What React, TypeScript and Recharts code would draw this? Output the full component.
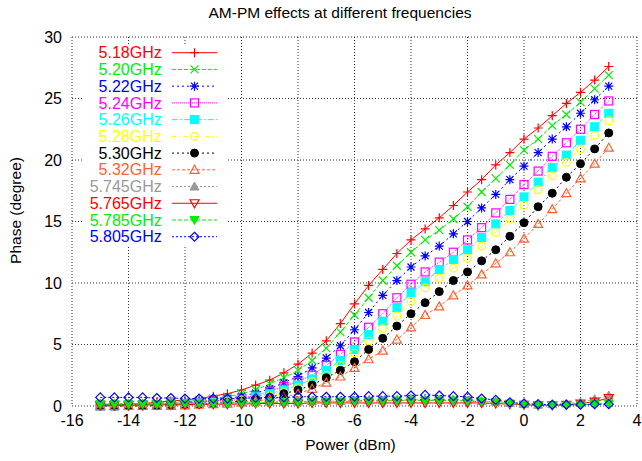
import { CartesianGrid, Legend, Line, LineChart, XAxis, YAxis } from "recharts";

// AM-PM phase vs input power, one curve per carrier frequency.

const FONT = '"Liberation Sans", Arial, Helvetica, sans-serif';

const POWER = [
  -15, -14.5, -14, -13.5, -13, -12.5, -12, -11.5, -11, -10.5, -10, -9.5, -9, -8.5, -8, -7.5, -7, -6.5,
  -6, -5.5, -5, -4.5, -4, -3.5, -3, -2.5, -2, -1.5, -1, -0.5, 0, 0.5, 1, 1.5, 2, 2.5, 3,
];
const X_TICKS = [-16, -14, -12, -10, -8, -6, -4, -2, 0, 2, 4];
const Y_TICKS = [0, 5, 10, 15, 20, 25, 30];

const F518 = [
  0.1, 0.1, 0.15, 0.2, 0.3, 0.4, 0.5, 0.6, 0.8, 1.0, 1.3, 1.7, 2.1, 2.7, 3.4, 4.3, 5.3, 6.7, 8.3, 9.8,
  11.1, 12.4, 13.5, 14.4, 15.3, 16.3, 17.4, 18.4, 19.6, 20.6, 21.7, 22.6, 23.6, 24.6, 25.5, 26.5, 27.6,
];
const F520 = [
  0.05, 0.1, 0.1, 0.15, 0.2, 0.3, 0.35, 0.45, 0.6, 0.75, 1.0, 1.3, 1.8, 2.3, 2.9, 3.7, 4.7, 6.0, 7.4, 8.8,
  10.2, 11.4, 12.5, 13.5, 14.3, 15.2, 16.2, 17.4, 18.5, 19.6, 20.8, 21.7, 22.8, 23.7, 24.7, 25.8, 26.9,
];
const F522 = [
  0.05, 0.05, 0.1, 0.1, 0.15, 0.2, 0.3, 0.35, 0.45, 0.6, 0.8, 1.05, 1.4, 1.9, 2.4, 3.1, 3.9, 4.9, 6.2, 7.6,
  9.0, 10.2, 11.3, 12.2, 13.0, 14.0, 15.0, 16.1, 17.2, 18.4, 19.5, 20.6, 21.7, 22.7, 23.8, 24.9, 26.0,
];
const F524 = [
  0, 0, 0.05, 0.1, 0.1, 0.15, 0.2, 0.3, 0.4, 0.5, 0.65, 0.85, 1.2, 1.6, 2.0, 2.5, 3.3, 4.2, 5.2, 6.4,
  7.5, 8.8, 9.9, 10.9, 11.7, 12.5, 13.5, 14.5, 15.7, 16.8, 18.0, 19.1, 20.3, 21.4, 22.5, 23.7, 24.8,
];
const F526 = [
  0, 0, 0.05, 0.05, 0.1, 0.15, 0.2, 0.25, 0.3, 0.4, 0.55, 0.75, 1.0, 1.3, 1.7, 2.2, 2.9, 3.7, 4.6, 5.8,
  6.9, 8.0, 9.2, 10.1, 11.1, 11.9, 12.7, 13.7, 14.8, 15.9, 17.0, 18.2, 19.4, 20.4, 21.6, 22.7, 23.8,
];
const F528 = [
  0, 0, 0, 0.05, 0.1, 0.1, 0.15, 0.2, 0.25, 0.35, 0.45, 0.6, 0.8, 1.1, 1.5, 2.0, 2.5, 3.3, 4.3, 5.3,
  6.3, 7.3, 8.5, 9.6, 10.4, 11.2, 12.0, 13.0, 14.1, 15.2, 16.3, 17.6, 18.7, 19.8, 20.9, 22.0, 23.2,
];
const F530 = [
  0, 0, 0, 0, 0.05, 0.1, 0.1, 0.15, 0.2, 0.3, 0.4, 0.5, 0.7, 1.0, 1.3, 1.7, 2.3, 2.9, 3.6, 4.6,
  5.5, 6.5, 7.5, 8.4, 9.3, 10.2, 10.9, 11.8, 12.7, 13.8, 14.9, 16.2, 17.3, 18.6, 19.7, 20.9, 22.2,
];
const F532 = [
  0, 0, 0, 0, 0, 0, 0.05, 0.1, 0.15, 0.2, 0.3, 0.4, 0.55, 0.75, 1.0, 1.4, 1.9, 2.4, 3.1, 3.8,
  4.5, 5.4, 6.4, 7.4, 8.1, 9.0, 9.8, 10.7, 11.6, 12.5, 13.6, 14.8, 16.0, 17.3, 18.5, 19.7, 21.0,
];
const F5745 = [
  0.2, 0.2, 0.2, 0.2, 0.2, 0.25, 0.25, 0.25, 0.3, 0.3, 0.3, 0.3, 0.35, 0.35, 0.35, 0.4, 0.4, 0.4, 0.45, 0.45,
  0.45, 0.45, 0.5, 0.5, 0.5, 0.45, 0.45, 0.4, 0.35, 0.25, 0.15, 0.1, 0.15, 0.2, 0.3, 0.55, 0.85,
];
const F5765 = [
  0.05, 0.05, 0.05, 0.1, 0.1, 0.1, 0.1, 0.15, 0.15, 0.15, 0.15, 0.2, 0.2, 0.2, 0.2, 0.25, 0.25, 0.25, 0.25, 0.25,
  0.25, 0.25, 0.25, 0.25, 0.25, 0.25, 0.25, 0.25, 0.2, 0.15, 0.1, 0.05, 0.05, 0.1, 0.2, 0.35, 0.65,
];
const F5785 = [
  0.15, 0.15, 0.15, 0.15, 0.15, 0.2, 0.2, 0.2, 0.2, 0.2, 0.25, 0.25, 0.3, 0.3, 0.3, 0.35, 0.35, 0.35, 0.4, 0.4,
  0.4, 0.45, 0.45, 0.45, 0.45, 0.45, 0.4, 0.35, 0.3, 0.2, 0.1, 0.05, 0.05, 0.05, 0.1, 0.15, 0.2,
];
const F5805 = [
  0.7, 0.7, 0.7, 0.7, 0.65, 0.65, 0.6, 0.6, 0.6, 0.6, 0.65, 0.65, 0.7, 0.7, 0.75, 0.75, 0.75, 0.75, 0.75, 0.8,
  0.8, 0.8, 0.85, 0.9, 0.85, 0.8, 0.75, 0.6, 0.5, 0.3, 0.2, 0.15, 0.1, 0.1, 0.1, 0.15, 0.15,
];

type Shape =
  | "plus" | "cross" | "star" | "square" | "fsquare" | "circle"
  | "fcircle" | "tri" | "ftri" | "tridown" | "ftridown" | "diamond";

type Series = { key: string; name: string; values: number[]; color: string; dash?: string; shape: Shape };

const SERIES: Series[] = [
  { key: "f518", name: "5.18GHz", values: F518, color: "#ff0000", shape: "plus" },
  { key: "f520", name: "5.20GHz", values: F520, color: "#00ee00", dash: "4 2", shape: "cross" },
  { key: "f522", name: "5.22GHz", values: F522, color: "#0000ff", dash: "2 3", shape: "star" },
  { key: "f524", name: "5.24GHz", values: F524, color: "#ff00ff", dash: "1 1", shape: "square" },
  { key: "f526", name: "5.26GHz", values: F526, color: "#00ffff", dash: "6 2 2 2", shape: "fsquare" },
  { key: "f528", name: "5.28GHz", values: F528, color: "#ffff00", dash: "4 3 1 3", shape: "circle" },
  { key: "f530", name: "5.30GHz", values: F530, color: "#000000", dash: "2 3", shape: "fcircle" },
  { key: "f532", name: "5.32GHz", values: F532, color: "#ff6030", dash: "3 2", shape: "tri" },
  { key: "f5745", name: "5.745GHz", values: F5745, color: "#999999", dash: "2 2", shape: "ftri" },
  { key: "f5765", name: "5.765GHz", values: F5765, color: "#ff0000", shape: "tridown" },
  { key: "f5785", name: "5.785GHz", values: F5785, color: "#00ee00", dash: "4 2", shape: "ftridown" },
  { key: "f5805", name: "5.805GHz", values: F5805, color: "#0000ff", dash: "2 2", shape: "diamond" },
];

const rows = POWER.map((p, i) => {
  const r: Record<string, number> = { power: p };
  SERIES.forEach((s) => {
    r[s.key] = s.values[i];
  });
  return r;
});

// gnuplot-style point symbols
function Marker({ shape, cx, cy, color }: { shape: Shape; cx: number; cy: number; color: string }) {
  const p = { stroke: color, strokeWidth: 1.2, fill: "none" };
  const f = { stroke: color, strokeWidth: 1, fill: color };
  switch (shape) {
    case "plus":
      return <path d={`M${cx - 4.5},${cy}H${cx + 4.5}M${cx},${cy - 4.5}V${cy + 4.5}`} {...p} />;
    case "cross":
      return <path d={`M${cx - 4},${cy - 4}L${cx + 4},${cy + 4}M${cx - 4},${cy + 4}L${cx + 4},${cy - 4}`} {...p} />;
    case "star":
      return (
        <path
          d={`M${cx - 4.5},${cy}H${cx + 4.5}M${cx},${cy - 4.5}V${cy + 4.5}M${cx - 3.5},${cy - 3.5}L${cx + 3.5},${cy + 3.5}M${cx - 3.5},${cy + 3.5}L${cx + 3.5},${cy - 3.5}`}
          {...p}
        />
      );
    case "square":
      return <rect x={cx - 4} y={cy - 4} width={8} height={8} {...p} />;
    case "fsquare":
      return <rect x={cx - 4} y={cy - 4} width={8} height={8} {...f} />;
    case "circle":
      return <circle cx={cx} cy={cy} r={3.8} {...p} />;
    case "fcircle":
      return <circle cx={cx} cy={cy} r={4} {...f} />;
    case "tri":
      return <path d={`M${cx},${cy - 4.5}L${cx + 4.5},${cy + 3.5}L${cx - 4.5},${cy + 3.5}Z`} {...p} />;
    case "ftri":
      return <path d={`M${cx},${cy - 4.5}L${cx + 4.5},${cy + 3.5}L${cx - 4.5},${cy + 3.5}Z`} {...f} />;
    case "tridown":
      return <path d={`M${cx},${cy + 4.5}L${cx + 4.5},${cy - 3.5}L${cx - 4.5},${cy - 3.5}Z`} {...p} />;
    case "ftridown":
      return <path d={`M${cx},${cy + 4.5}L${cx + 4.5},${cy - 3.5}L${cx - 4.5},${cy - 3.5}Z`} {...f} />;
    default:
      return <path d={`M${cx},${cy - 4.5}L${cx + 4.5},${cy}L${cx},${cy + 4.5}L${cx - 4.5},${cy}Z`} {...p} />;
  }
}

const makeDot = (s: Series) => (props: any) => {
  const { cx, cy, index } = props;
  if (cx == null || cy == null) return <g key={`${s.key}-${index}`} />;
  return (
    <g key={`${s.key}-${index}`}>
      <Marker shape={s.shape} cx={cx} cy={cy} color={s.color} />
    </g>
  );
};

// opaque key box in the upper left, like gnuplot's "set key left top box opaque"
function KeyBox() {
  return (
    <svg width={146} height={202} style={{ display: "block", background: "#fff" }}>
      {SERIES.map((s, i) => {
        const y = 8.7 + i * 16.73;
        return (
          <g key={s.key}>
            <text x={79.7} y={y} dy="0.355em" textAnchor="end" fill={s.color} fontSize={16} fontFamily={FONT}>
              {s.name}
            </text>
            <line x1={90} x2={135} y1={y} y2={y} stroke={s.color} strokeDasharray={s.dash} />
            <Marker shape={s.shape} cx={112.5} cy={y} color={s.color} />
          </g>
        );
      })}
    </svg>
  );
}

const tickStyle = { fill: "#000", fontSize: 16, fontFamily: FONT };

export default function App() {
  return (
    <div style={{ position: "absolute", left: 0, top: 0, width: 642, height: 461, background: "#fff", fontFamily: FONT }}>
      <div
        style={{
          position: "absolute",
          left: 0,
          top: 4,
          width: 680,
          textAlign: "center",
          fontSize: 15.5,
          lineHeight: "17px",
          color: "#000",
          zIndex: 2,
        }}
      >
        AM-PM effects at different frequencies
      </div>
      <LineChart width={642} height={461} data={rows} margin={{ top: 37, right: 5, bottom: 0, left: 0 }}>
        <CartesianGrid xAxisId="main" yAxisId="main" stroke="#333" strokeDasharray="1 2" />
        <XAxis
          xAxisId="main"
          dataKey="power"
          type="number"
          domain={[-16, 4]}
          ticks={X_TICKS}
          height={55}
          axisLine={false}
          tickLine={false}
          tickSize={0}
          tickMargin={9}
          tick={tickStyle}
          label={(p: any) => {
            const vb = p.viewBox;
            return (
              <text x={vb.x + vb.width / 2 - 4} y={450} textAnchor="middle" fill="#000" fontSize={15.5} fontFamily={FONT}>
                Power (dBm)
              </text>
            );
          }}
        />
        <YAxis
          yAxisId="main"
          type="number"
          domain={[0, 30]}
          ticks={Y_TICKS}
          width={72}
          axisLine={false}
          tickLine={false}
          tickSize={0}
          tickMargin={10}
          tick={tickStyle}
          label={(p: any) => {
            const vb = p.viewBox;
            const x = 15.5;
            const y = vb.y + vb.height / 2 - 11;
            return (
              <text
                x={x}
                y={y}
                dy="0.355em"
                textAnchor="middle"
                transform={`rotate(-90 ${x} ${y})`}
                fill="#000"
                fontSize={15.5}
                fontFamily={FONT}
              >
                Phase (degree)
              </text>
            );
          }}
        />
        {/* border box with inward ticks on all four sides */}
        <XAxis xAxisId="bot" type="number" domain={[-16, 4]} ticks={X_TICKS} orientation="bottom" mirror height={0} tick={false} tickSize={6} stroke="#000" />
        <XAxis xAxisId="top" type="number" domain={[-16, 4]} ticks={X_TICKS} orientation="top" mirror height={0} tick={false} tickSize={6} stroke="#000" />
        <YAxis yAxisId="left" type="number" domain={[0, 30]} ticks={Y_TICKS} orientation="left" mirror width={0} tick={false} tickSize={6} stroke="#000" />
        <YAxis yAxisId="right" type="number" domain={[0, 30]} ticks={Y_TICKS} orientation="right" mirror width={0} tick={false} tickSize={6} stroke="#000" />
        <Legend
          layout="vertical"
          align="center"
          verticalAlign="middle"
          content={() => <KeyBox />}
          wrapperStyle={{ left: 82, top: 44, width: 146, height: 202 }}
        />
        {SERIES.map((s) => (
          <Line
            key={s.key}
            xAxisId="main"
            yAxisId="main"
            dataKey={s.key}
            name={s.name}
            type="linear"
            stroke={s.color}
            strokeWidth={1}
            strokeDasharray={s.dash}
            dot={makeDot(s)}
            activeDot={false}
            isAnimationActive={false}
          />
        ))}
      </LineChart>
    </div>
  );
}
